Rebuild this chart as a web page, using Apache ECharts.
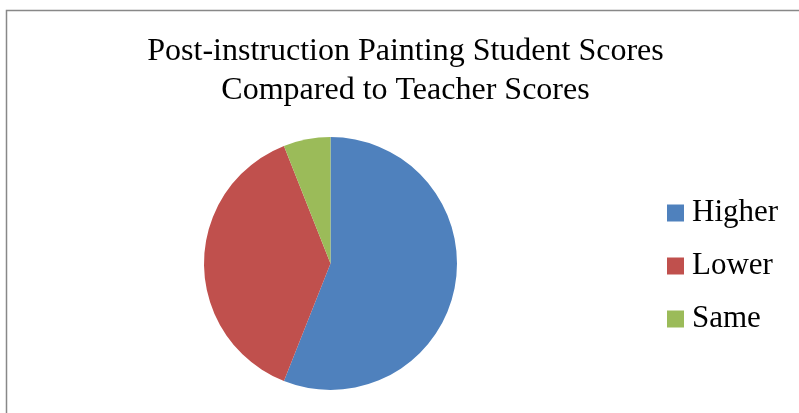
<!DOCTYPE html>
<html><head><meta charset="utf-8">
<script src="https://cdn.jsdelivr.net/npm/echarts@6/dist/echarts.min.js"></script>
<style>html,body{margin:0;padding:0;background:#fff}#c{width:799px;height:413px}</style>
</head><body><div id="c"></div>
<script>
const categories = ['Higher', 'Lower', 'Same'];
const values = [56, 38, 6];
const colors = ['#4F81BD', '#C0504D', '#9BBB59'];
const titleText = 'Post-instruction Painting Student Scores\nCompared to Teacher Scores';

const chart = echarts.init(document.getElementById('c'), null, {renderer: 'canvas'});
chart.setOption({
  animation: false,
  color: colors,
  title: {
    text: titleText,
    left: 405.5, top: 31.5, textAlign: 'center', padding: 0,
    textStyle: {fontFamily: 'Liberation Serif', fontSize: 32, fontWeight: 'normal', color: '#000', lineHeight: 39.5}
  },
  legend: {
    orient: 'vertical', left: 667, top: 197.5, padding: 0,
    icon: 'rect', itemWidth: 17, itemHeight: 17, itemGap: 22,
    data: categories,
    textStyle: {fontFamily: 'Liberation Serif', fontSize: 31, color: '#000', lineHeight: 31, padding: [0,0,0,3]}
  },
  graphic: [{
    type: 'rect', shape: {x: 6.5, y: 10.5, width: 900, height: 600},
    style: {fill: 'none', stroke: '#888', lineWidth: 1.5}, silent: true, z: -1
  }],
  series: [{
    type: 'pie', center: [330.5, 263.5], radius: 126.5,
    startAngle: 90, clockwise: true,
    label: {show: false}, labelLine: {show: false},
    itemStyle: {borderWidth: 0},
    data: categories.map((n, i) => ({name: n, value: values[i]}))
  }]
});
</script></body></html>
